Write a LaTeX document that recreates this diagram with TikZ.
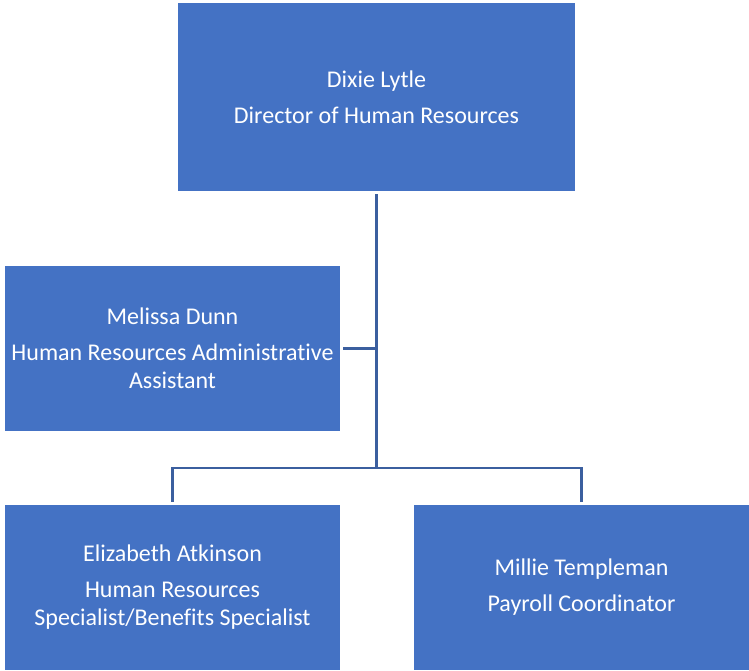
\documentclass[tikz,border=0pt]{standalone}
\usepackage{fontspec}
\setmainfont{Carlito}[Ligatures=NoCommon]
\usepackage{tikz}
\usetikzlibrary{positioning,calc}
\definecolor{boxblue}{HTML}{4472C4}
\definecolor{lineblue}{HTML}{3B5F9F}

\begin{document}
\begin{tikzpicture}[x=1pt,y=-1pt,
  person/.style={fill=boxblue,draw=none,text=white,align=center,
    font=\fontsize{24}{28}\selectfont,inner sep=0pt},
  link/.style={lineblue,line width=2.2pt,shorten <=3pt,shorten >=3pt}]
\useasboundingbox (0,0) rectangle (749,670);
\node[person,minimum width=397,minimum height=188] (dixie) at (376.5,97) {Dixie Lytle\\[8pt]Director of Human Resources};
\node[person,minimum width=335,minimum height=165] (melissa) at (172.5,348.5) {Melissa Dunn\\[8pt]Human Resources Administrative\\Assistant};
\node[person,minimum width=335,minimum height=165] (elizabeth) at (172.5,587.5) {Elizabeth Atkinson\\[8pt]Human Resources\\Specialist/Benefits Specialist};
\node[person,minimum width=335,minimum height=165] (millie) at (581.5,587.5) {Millie Templeman\\[8pt]Payroll Coordinator};
\coordinate (hub) at (376.5,468);
% lines
\draw[link,shorten >=0pt] (dixie.south) -- (hub);
\draw[link,shorten >=0pt] (melissa.east) -- (melissa.east -| hub);
\draw[link,shorten <=0pt] (hub) -| (elizabeth.north);
\draw[link,shorten <=0pt] (hub) -| (millie.north);
\end{tikzpicture}
\end{document}
